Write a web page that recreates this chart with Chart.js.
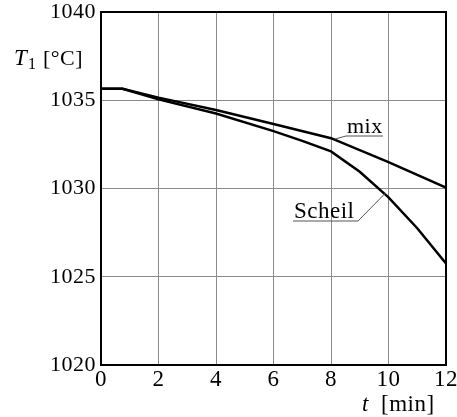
<!DOCTYPE html>
<html>
<head>
<meta charset="utf-8">
<script src="https://cdn.jsdelivr.net/npm/chart.js@4"></script>
<style>
  html, body { margin: 0; padding: 0; background: #fff; }
  #wrap { width: 457px; height: 417px; }
</style>
</head>
<body>
<div id="wrap"><canvas id="tempChart" width="457" height="417"></canvas></div>
<script>
// time axis values [min]
const mixTime = [0, 0.75, 2, 4, 6, 8, 10, 12];
const mixTemp = [1035.65, 1035.65, 1035.15, 1034.45, 1033.65, 1032.85, 1031.5, 1030.05];

const scheilTime = [0, 0.75, 2, 4, 6, 7, 8, 9, 10, 11, 12];
const scheilTemp = [1035.65, 1035.65, 1035.05, 1034.25, 1033.25, 1032.7, 1032.1, 1030.95, 1029.5, 1027.75, 1025.75];

const xTicks = [0, 2, 4, 6, 8, 10, 12];
const yTicks = [1020, 1025, 1030, 1035, 1040];

const FONT = '"Liberation Serif", "Times New Roman", serif';

function toPoints(xs, ys) {
  return xs.map((x, i) => ({ x: x, y: ys[i] }));
}

// box around plot + labels and leader lines
const decorPlugin = {
  id: "decor",
  beforeDraw(chart) {
    chart.ctx.letterSpacing = "0.5px";
  },
  afterDraw(chart) {
    const { ctx, chartArea: a, scales } = chart;
    const xs = scales.x, ys = scales.y;
    ctx.save();
    ctx.strokeStyle = "#000";
    ctx.lineWidth = 2;
    ctx.strokeRect(a.left, a.top, a.right - a.left, a.bottom - a.top);

    ctx.fillStyle = "#000";
    ctx.textBaseline = "alphabetic";
    ctx.letterSpacing = "0.5px";

    // y axis label  T1 [°C]
    ctx.font = "italic 23px " + FONT;
    ctx.fillText("T", 14, 65);
    ctx.font = "16px " + FONT;
    ctx.fillText("1", 28, 69);
    ctx.font = "22px " + FONT;
    ctx.fillText("[°C]", 43, 65);

    // x axis label  t [min]
    ctx.font = "italic 23px " + FONT;
    ctx.fillText("t", 362, 411);
    ctx.font = "23px " + FONT;
    ctx.fillText("[min]", 381, 411);

    // curve labels
    ctx.lineWidth = 1;
    ctx.strokeStyle = "#555";
    ctx.font = "22px " + FONT;
    ctx.fillText("mix", 347, 133);
    ctx.beginPath();
    ctx.moveTo(xs.getPixelForValue(8.13), ys.getPixelForValue(1032.8));
    ctx.lineTo(346, 136);
    ctx.lineTo(383, 136);
    ctx.stroke();

    ctx.font = "23px " + FONT;
    ctx.fillText("Scheil", 294, 218);
    ctx.beginPath();
    ctx.moveTo(293, 221);
    ctx.lineTo(358, 221);
    ctx.lineTo(xs.getPixelForValue(9.9), ys.getPixelForValue(1029.75));
    ctx.stroke();
    ctx.restore();
  }
};

const ctx = document.getElementById("tempChart").getContext("2d");
new Chart(ctx, {
  type: "line",
  data: {
    datasets: [
      {
        label: "mix",
        data: toPoints(mixTime, mixTemp),
        borderColor: "#000",
        borderWidth: 2.5,
        pointRadius: 0,
        tension: 0,
        fill: false,
      },
      {
        label: "Scheil",
        data: toPoints(scheilTime, scheilTemp),
        borderColor: "#000",
        borderWidth: 2.5,
        pointRadius: 0,
        tension: 0,
        fill: false,
      },
    ],
  },
  options: {
    responsive: false,
    animation: false,
    layout: { padding: { top: 12, right: 11, left: 0, bottom: 0 } },
    plugins: {
      legend: { display: false },
      title: { display: false },
      tooltip: { enabled: false },
    },
    scales: {
      x: {
        type: "linear",
        min: 0,
        max: 12,
        afterFit(scale) {
          scale.height = 52;
          scale.paddingLeft = 0;
          scale.paddingRight = 0;
        },
        afterBuildTicks(scale) { scale.ticks = xTicks.map(v => ({ value: v })); },
        grid: { color: "#8a8a8a", lineWidth: 1, drawTicks: false },
        border: { color: "#000", width: 2 },
        ticks: { color: "#000", padding: 1, font: { family: FONT, size: 23 }, maxRotation: 0, callback: v => String(v) },
      },
      y: {
        type: "linear",
        min: 1020,
        max: 1040,
        afterFit(scale) {
          scale.width = 101;
          scale.paddingTop = 0;
          scale.paddingBottom = 0;
        },
        afterBuildTicks(scale) { scale.ticks = yTicks.map(v => ({ value: v })); },
        grid: { color: "#8a8a8a", lineWidth: 1, drawTicks: false },
        border: { color: "#000", width: 2 },
        ticks: { color: "#000", padding: 5, font: { family: FONT, size: 22 }, callback: v => String(v) },
      },
    },
  },
  plugins: [decorPlugin],
});
</script>
</body>
</html>
